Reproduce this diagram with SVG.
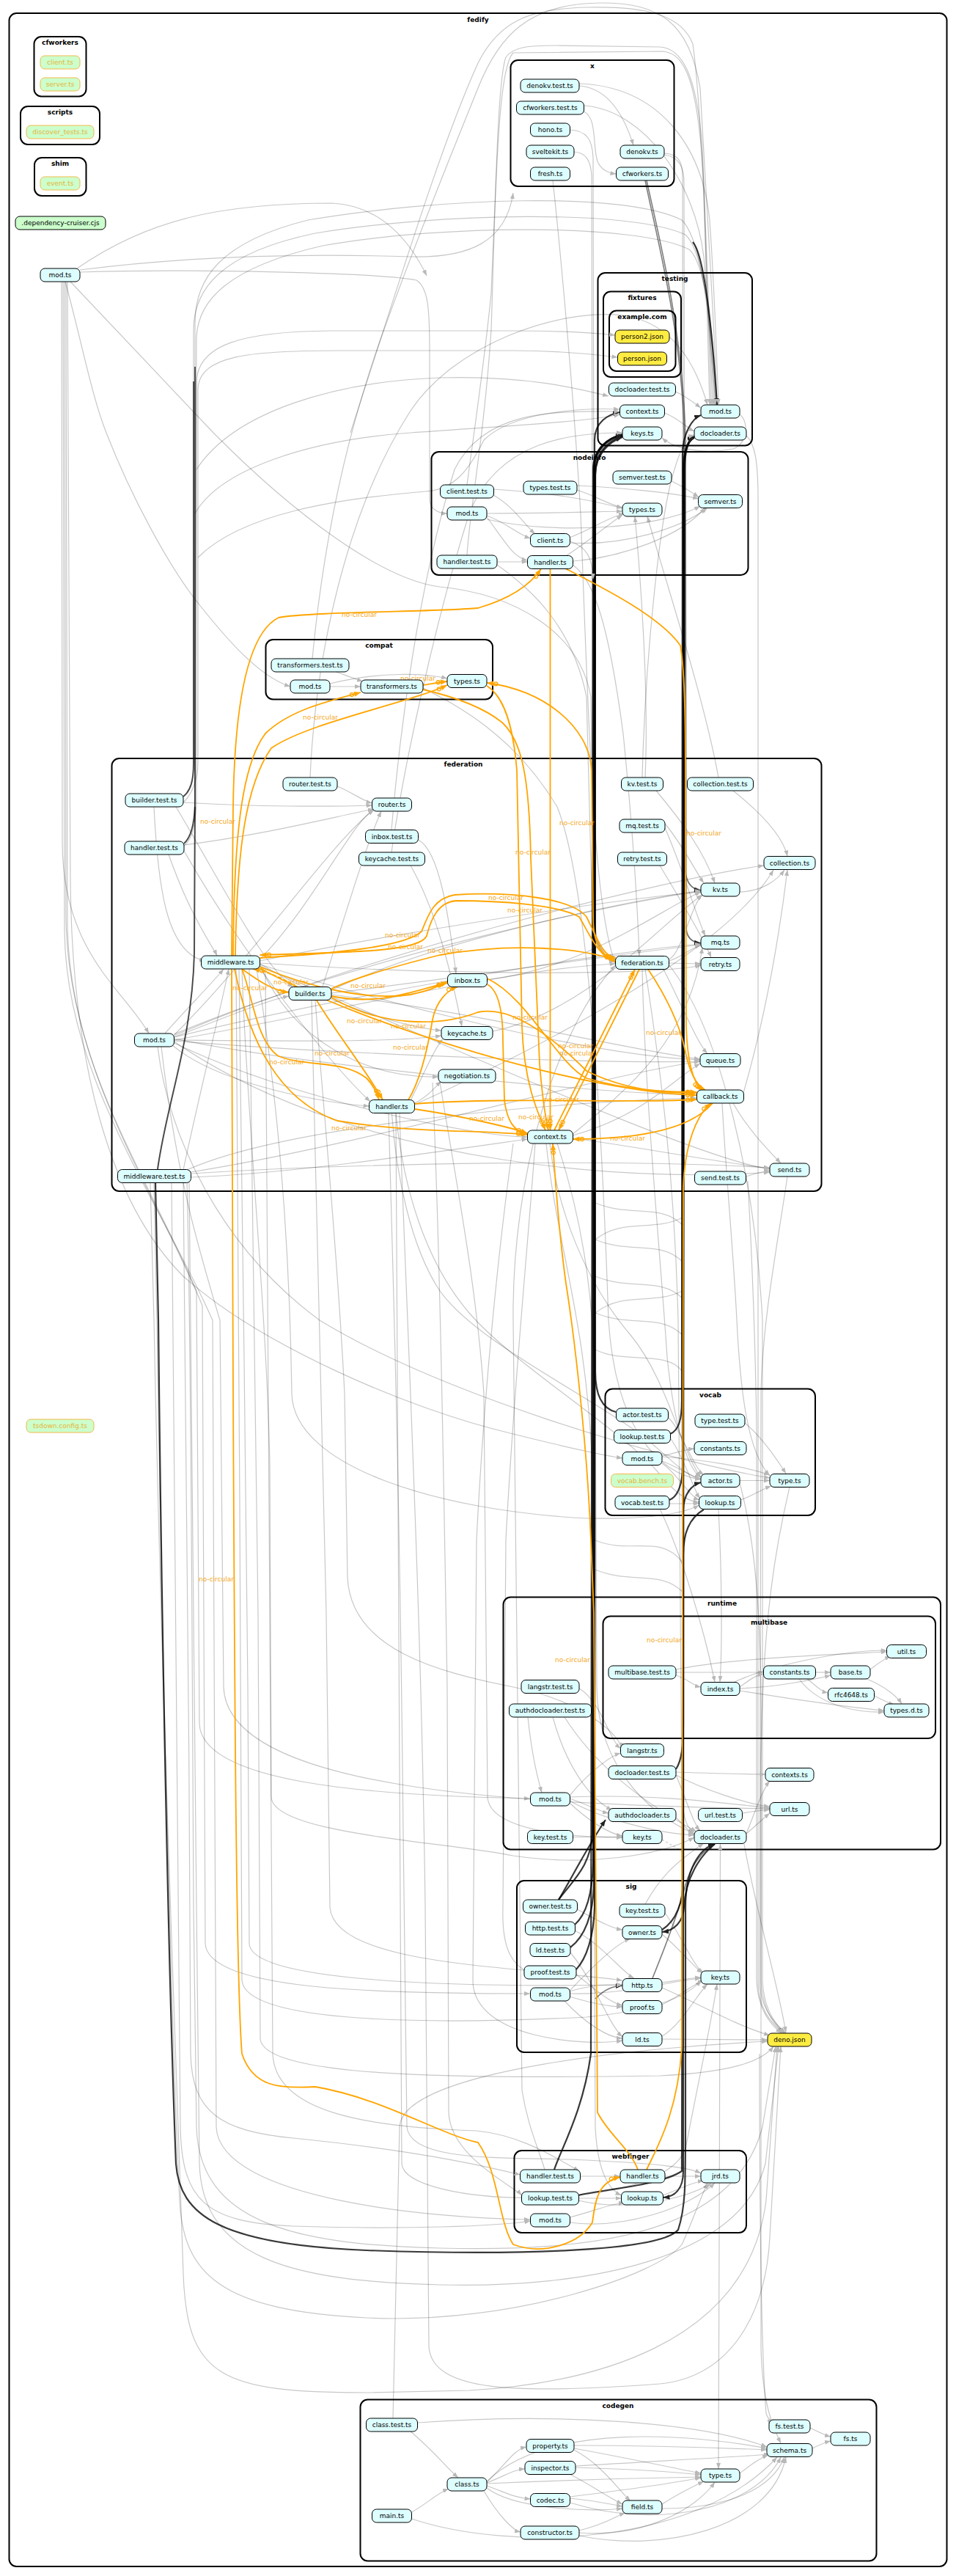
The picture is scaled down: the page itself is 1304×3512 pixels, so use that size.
<svg xmlns="http://www.w3.org/2000/svg" width="1304" height="3512" viewBox="0 0 1304 3512">
<defs>
<marker id="ag" viewBox="0 0 8 6" refX="8" refY="3" markerWidth="8" markerHeight="6" orient="auto" markerUnits="userSpaceOnUse"><path d="M0,0L8,3L0,6z" fill="#b8b8b8"/></marker>
<marker id="ad" viewBox="0 0 8 6" refX="8" refY="3" markerWidth="9" markerHeight="7" orient="auto" markerUnits="userSpaceOnUse"><path d="M0,0L8,3L0,6z" fill="#222"/></marker>
<marker id="ao" viewBox="0 0 16 8" refX="16" refY="4" markerWidth="16" markerHeight="8" orient="auto" markerUnits="userSpaceOnUse"><circle cx="3.5" cy="4" r="2.5" fill="none" stroke="#ffa500" stroke-width="1.3"/><path d="M7,0.5L16,4L7,7.5z" fill="#ffa500"/></marker>
</defs>
<style>
.e{fill:none;stroke:#000;stroke-opacity:.22;stroke-width:1.2;marker-end:url(#ag)}
.w{fill:none;stroke:#000;stroke-opacity:.2;stroke-width:1.2}
.m{fill:none;stroke:#000;stroke-opacity:.5;stroke-width:1.6;marker-end:url(#ad)}
.d{fill:none;stroke:#000;stroke-opacity:.78;stroke-width:2.2;marker-end:url(#ad)}
.ds{fill:none;stroke:#000;stroke-opacity:.65;stroke-width:2}
.o{fill:none;stroke:#ffa500;stroke-width:1.8;marker-end:url(#ao)}
.od{fill:none;stroke:#ffa500;stroke-width:1.8;stroke-dasharray:5,3;marker-end:url(#ao)}
.l{font-family:"DejaVu Sans",sans-serif;font-size:9px;fill:#f5a623;text-anchor:middle}
.n rect{fill:#ddfeff;stroke:#000;stroke-width:1}
.nj rect{fill:#ffec42;stroke:#000;stroke-width:1}
.no rect{fill:#ccffcc;stroke:#f2b84b;stroke-width:1}
.ng rect{fill:#ccffcc;stroke:#000;stroke-width:1}
text{font-family:"DejaVu Sans",sans-serif;font-size:9px;text-anchor:middle}
.no text{fill:#e6b23a}
.cl{fill:none;stroke:#000;stroke-width:2}
.ct{font-weight:bold}
</style>
<rect width="1304" height="3512" fill="#fff"/>

<g id="clusters">
<rect class="cl" x="12.5" y="18" width="1279" height="3481" rx="10"/><text class="ct" x="652" y="29.5">fedify</text>
<rect class="cl" x="46.5" y="50" width="71" height="81.5" rx="10"/><text class="ct" x="82" y="61">cfworkers</text>
<rect class="cl" x="28" y="145" width="108" height="52" rx="10"/><text class="ct" x="82" y="156">scripts</text>
<rect class="cl" x="47" y="215" width="70.5" height="52" rx="10"/><text class="ct" x="82" y="226">shim</text>
<rect class="cl" x="696.5" y="82" width="223" height="172" rx="10"/><text class="ct" x="808" y="93">x</text>
<rect class="cl" x="815.5" y="372" width="210.5" height="235.5" rx="10"/><text class="ct" x="920.5" y="383">testing</text>
<rect class="cl" x="823" y="397.5" width="106" height="116.5" rx="10"/><text class="ct" x="876" y="409">fixtures</text>
<rect class="cl" x="831" y="423.5" width="90.5" height="82.5" rx="10"/><text class="ct" x="876" y="435">example.com</text>
<rect class="cl" x="588.5" y="616" width="432" height="168" rx="10"/><text class="ct" x="804" y="627">nodeinfo</text>
<rect class="cl" x="362.5" y="872" width="309.5" height="81.5" rx="10"/><text class="ct" x="517" y="883">compat</text>
<rect class="cl" x="152.5" y="1034" width="968" height="590" rx="10"/><text class="ct" x="632" y="1045">federation</text>
<rect class="cl" x="825.5" y="1893.5" width="286.5" height="172.5" rx="10"/><text class="ct" x="969" y="1905">vocab</text>
<rect class="cl" x="686.5" y="2177.5" width="596.5" height="344" rx="10"/><text class="ct" x="985" y="2189">runtime</text>
<rect class="cl" x="822.5" y="2203.5" width="453.5" height="166.5" rx="10"/><text class="ct" x="1049" y="2215">multibase</text>
<rect class="cl" x="705" y="2564" width="313" height="234" rx="10"/><text class="ct" x="861" y="2575">sig</text>
<rect class="cl" x="701.5" y="2932" width="316.5" height="112" rx="10"/><text class="ct" x="860" y="2943">webfinger</text>
<rect class="cl" x="491.5" y="3271.5" width="704" height="220" rx="10"/><text class="ct" x="843" y="3283">codegen</text>
</g>

<g id="edges">
<!-- root mod.ts -->
<path class="e" d="M89,384 C110,460 125,540 145,590 C180,680 230,770 266,817 C300,860 350,922 396,936"/>
<path class="e" d="M109,371 C260,366 520,372 568,382 C584,392 586,420 586,480 L586,680 C586,694 598,700 610,700"/>
<path class="e" d="M84,384 L85,1150 C86,1300 170,1350 203,1409"/>
<path class="e" d="M92,384 L96,1200 C98,1450 150,1640 250,1740 C350,1830 550,1920 700,1955 C780,1975 830,1985 849,1988"/>
<path class="e" d="M88,384 L90,1250 C92,1450 200,1600 268,1760 L272,2350 C275,2430 500,2448 723,2452"/>
<path class="e" d="M90,384 L92,1260 C94,1460 210,1620 276,1780 L280,2650 C284,2712 500,2718 723,2718"/>
<path class="e" d="M86,384 L88,1270 C90,1470 220,1640 290,1800 L295,2900 C300,3000 600,3025 723,3026"/>
<path class="e" d="M96,384 L291,590 C400,700 520,790 600,800 C700,810 790,860 806,950 L810,1250 C812,1295 825,1310 839,1311"/>
<path class="e" d="M105,366 C200,300 300,277 453,277 C520,280 560,330 582,376"/>
<path class="e" d="M109,368 C250,350 400,345 560,350 C640,352 690,330 700,263"/>
<!-- arcs into testing/mod.ts -->
<path class="e" d="M426,898 C440,750 470,600 520,460 C570,320 620,200 652,120 C680,50 720,4 820,4 C900,4 940,30 955,120 C965,300 975,450 978,552"/>
<path class="e" d="M637,757 C640,700 660,600 670,450 C675,300 678,110 690,78 C700,64 720,62 760,62 L900,64 C930,66 950,100 958,200 L972,552"/>
<path class="e" d="M637,661 C645,600 660,500 670,400 C678,200 682,90 700,72 L905,70 C935,74 952,110 960,250 L968,552"/>
<path class="e" d="M478,590 C540,400 600,200 652,86 C680,30 720,12 800,10 C880,8 930,20 945,60 C958,150 965,400 970,552"/>
<!-- tests into testing/mod.ts via left channel -->
<path class="e" d="M251,1150 C262,1140 266,1120 266,1090 L266,440 C266,380 300,330 420,300 C600,270 850,260 930,300 C960,330 970,450 974,552"/>
<path class="e" d="M250,1086 C260,1078 264,1065 264,1040 L264,450 C264,395 300,345 430,318 C600,290 860,285 935,320 C962,345 972,460 976,552"/>
<path class="e" d="M215,1594 C228,1500 262,1420 265,1300 L268,460 C270,410 310,365 440,335 C610,305 870,305 940,340 C964,360 974,470 978,552"/>
<path class="ds" d="M251,1150 C262,1140 266,1120 266,1090 L266,500"/>
<path class="ds" d="M250,1086 C260,1078 264,1065 264,1040 L264,520"/>
<path class="ds" d="M215,1594 C228,1500 262,1420 265,1300 L266,1100"/>
<path class="d" d="M945,330 C962,350 972,460 978,552"/>
<!-- dark into testing -->
<path class="d" d="M762,2590 C780,2565 806,2545 808,2500 L810,640 C810,610 830,596 849,593"/>
<path class="d" d="M784,2624 C800,2610 808,2580 809,2540 L811,640 C811,612 830,598 849,594"/>
<path class="d" d="M778,2655 C798,2640 809,2610 810,2570 L812,645 C812,615 832,600 849,595"/>
<path class="d" d="M786,2685 C800,2670 810,2640 811,2600 L812,648 C812,618 832,602 849,596"/>
<path class="d" d="M756,2958 C765,2930 795,2880 806,2800 L809,640 C809,612 830,597 849,592"/>
<path class="d" d="M840,1925 C820,1920 812,1900 812,1870 L811,600 C811,575 830,565 845,562"/>
<path class="d" d="M922,2412 C930,2400 932,2380 932,2350 L933,640 C933,610 940,598 947,595"/>
<path class="d" d="M913,2045 C926,2040 931,2020 931,2000 L932,640 C932,612 940,600 947,596"/>
<path class="d" d="M914,1955 C926,1950 930,1935 930,1910 L931,620 C931,590 945,570 956,566"/>
<path class="d" d="M789,2993 C820,2985 900,2980 930,2960 L934,640 C934,612 940,600 947,597"/>
<path class="d" d="M903,2631 C920,2620 932,2600 932,2560 L932,2060 C932,2035 945,2024 956,2021"/>
<path class="d" d="M212,1613 L216,1800 C220,2200 230,2700 240,2950 C245,3020 300,3060 500,3068 C700,3075 900,3070 925,3040 C935,3010 935,2980 935,2900 L935,2600 C935,2540 960,2518 975,2514"/>
<path class="d" d="M975,2514 C955,2530 935,2560 933,2600 C932,2620 920,2632 903,2634"/>
<path class="d" d="M960,2058 C940,2070 932,2090 932,2120 L932,2960 C932,2985 920,2995 904.5,2996"/>
<path class="d" d="M762,2590 C780,2560 800,2520 826,2481"/>
<path class="m" d="M890,2697 C905,2660 925,2610 935,2570 C945,2535 965,2520 975,2514"/>
<path class="m" d="M812,2725 C825,2712 835,2708 849,2707"/>
<!-- x cluster -->
<path class="e" d="M790,117 C830,120 852,160 864,198"/>
<path class="e" d="M796,152 C815,160 808,200 815,220 C820,232 830,236 840.5,237"/>
<path class="e" d="M790,114 C900,118 958,200 968,300 C975,400 978,500 980,552"/>
<path class="e" d="M796.5,144 C880,150 948,250 960,350 C968,450 974,520 976,552"/>
<path class="e" d="M777.5,177 C800,178 808,190 809,215 L811,1250 C812,1290 825,1308 839.5,1310"/>
<path class="e" d="M783,207 C800,208 806,220 807,240 L809,1260 C810,1295 825,1306 839.5,1308"/>
<path class="e" d="M754,246 C760,300 780,500 792,700 C803,1000 810,1240 839.5,1314"/>
<path class="e" d="M906,209 C925,210 931,220 931,240 L932,1180 C933,1205 945,1212 956,1213"/>
<path class="e" d="M906,211 C928,214 933,230 933,250 L934,1260 C935,1280 945,1285 956,1285"/>
<path class="m" d="M880,246 C895,320 930,450 933,590 L934,1180 C935,1205 945,1213 956,1214"/>
<path class="m" d="M882,246 C898,320 932,450 935,600 L936,1265 C937,1280 945,1285 956,1286"/>
<!-- testing -->
<path class="e" d="M921.5,534 C935,540 945,548 956,556"/>
<path class="e" d="M906.5,563 C925,570 935,582 947,588"/>
<path class="e" d="M1009,565 C1022,575 1020,605 1000,612 C960,620 920,612 903,597"/>
<path class="e" d="M251,1153 C262,1145 268,1120 268,1090 L268,520 C270,470 330,452 450,451 L700,451 C780,451 820,455 839,457"/>
<path class="e" d="M250,1094 C260,1085 270,1065 270,1040 L270,530 C272,485 340,478 460,478 L700,478 C780,478 820,485 842.5,487"/>
<path class="e" d="M423,1060 C430,900 470,700 560,560 C620,470 760,420 850,430 C920,440 950,500 965,552"/>
<path class="e" d="M534,1131 C545,1000 570,800 620,640 C660,560 750,560 845.5,561"/>
<path class="e" d="M534,1162 C550,1050 590,860 640,700 C680,600 780,590 849,590"/>
<path class="e" d="M876,1060 C880,900 900,700 920,640 C930,605 940,595 947,593"/>
<path class="e" d="M880,1060 C885,950 875,800 866,704"/>
<path class="e" d="M980,1060 C960,950 910,800 883,704"/>
<path class="e" d="M1018,594 C1030,605 1034,630 1034,680 L1034,2700 C1034,2745 1058,2762 1068,2772"/>
<path class="e" d="M266,700 C300,640 420,600 560,590 C700,580 800,575 845.5,565"/>
<path class="e" d="M268,640 C320,560 460,520 600,515 C720,512 790,530 830,540"/>
<path class="e" d="M270,760 C330,700 460,680 580,670 C620,668 640,640 660,600 C700,560 800,556 845,558"/>
<!-- nodeinfo -->
<path class="e" d="M916,656 C935,665 945,672 953,678"/>
<path class="e" d="M787,668 C810,675 830,688 849,692"/>
<path class="e" d="M787,662 C850,665 920,672 953,680"/>
<path class="e" d="M673,675 C700,690 715,715 730,728"/>
<path class="e" d="M673,667 C750,672 800,680 849,693"/>
<path class="e" d="M664,703 C690,712 705,728 723.5,734"/>
<path class="e" d="M664,700 C750,700 800,698 849,697"/>
<path class="e" d="M664,705 C690,740 700,760 719.5,764"/>
<path class="e" d="M664,708 C760,730 900,720 955,690"/>
<path class="e" d="M777,733 C810,720 830,705 852,700"/>
<path class="e" d="M777,740 C850,745 930,720 965,692"/>
<path class="e" d="M678,766 L719.5,766"/>
<path class="e" d="M772,758 C800,740 830,715 849,702"/>
<path class="e" d="M781,765 C850,760 930,730 962,692"/>
<path class="e" d="M678,770 C720,800 780,850 800,950 L808,1250 C810,1290 825,1303 839.5,1305"/>
<path class="e" d="M781,770 C810,790 830,850 850,1000 C865,1150 870,1250 872,1303"/>
<path class="e" d="M777,738 C800,745 808,760 809,790"/>
<!-- compat -->
<path class="e" d="M450,936 L492,936"/>
<path class="e" d="M450,932 C520,915 580,918 610,925"/>
<path class="e" d="M450,913 C470,920 485,926 495,929"/>
<path class="e" d="M577,938 C620,960 700,1000 760,1100 C800,1200 820,1500 830,1800 C840,1950 900,2010 956,2017"/>
<!-- federation internal -->
<path class="e" d="M460,1072 C480,1080 495,1092 507.5,1095"/>
<path class="e" d="M570.5,1145 C600,1160 612,1250 622,1327"/>
<path class="e" d="M560,1180 C600,1250 620,1350 630,1399.5"/>
<path class="e" d="M895,1078 C930,1120 960,1160 975,1204"/>
<path class="e" d="M1000,1078 C1040,1110 1068,1140 1074,1167.5"/>
<path class="e" d="M907,1129 C930,1180 950,1250 962,1276"/>
<path class="e" d="M907,1123 C930,1150 950,1190 960,1204"/>
<path class="e" d="M900,1180 C930,1230 960,1280 970,1305.5"/>
<path class="e" d="M1017.5,1604 C1030,1600 1040,1597 1050,1596"/>
<path class="e" d="M912.5,1308 C930,1300 942,1235 958,1220"/>
<path class="e" d="M912.5,1310 C930,1305 942,1292 956,1289"/>
<path class="e" d="M912.5,1313 L956,1314"/>
<path class="e" d="M905,1321.5 C930,1370 950,1420 965,1436.5"/>
<path class="e" d="M250,1094 C350,1100 450,1100 507.5,1098"/>
<path class="e" d="M240,1100 C300,1200 360,1320 400,1346"/>
<path class="e" d="M251,1160 C330,1300 450,1450 505,1502"/>
<path class="e" d="M251,1152 C350,1140 450,1115 510,1103"/>
<path class="e" d="M250,1595 C270,1500 300,1380 312,1321"/>
<path class="e" d="M260.5,1600 C500,1585 850,1580 1050,1592"/>
<path class="e" d="M260.5,1605 C400,1600 600,1570 719.5,1553"/>
<path class="e" d="M255,1595 C400,1530 800,1500 950.5,1497"/>
<path class="e" d="M260,1598 C500,1560 800,1470 955,1447"/>
<path class="e" d="M237.5,1414 C300,1390 360,1365 394,1358"/>
<path class="e" d="M237.5,1416 C400,1450 800,1490 950.5,1493"/>
<path class="e" d="M237.5,1412 C500,1300 900,1200 1042,1180"/>
<path class="e" d="M237.5,1422 C400,1500 650,1550 719.5,1550"/>
<path class="e" d="M237.5,1418 C450,1380 700,1320 839.5,1314"/>
<path class="e" d="M235,1425 C300,1480 450,1505 503.5,1508"/>
<path class="e" d="M237.5,1410 C500,1300 850,1230 956,1215"/>
<path class="e" d="M225,1409 C250,1380 290,1340 305,1321"/>
<path class="e" d="M237.5,1414 C500,1350 850,1295 956,1287"/>
<path class="e" d="M237.5,1411 C350,1300 450,1150 510,1104"/>
<path class="e" d="M237.5,1420 C500,1600 900,1610 1050,1598"/>
<path class="e" d="M237.5,1419 C500,1440 850,1450 955,1447"/>
<path class="e" d="M237.5,1418 C450,1420 550,1420 602,1412"/>
<path class="e" d="M354.5,1308 C430,1230 480,1120 510,1104"/>
<path class="e" d="M354.5,1310 C500,1280 800,1230 956,1216"/>
<path class="e" d="M354.5,1314 C450,1370 550,1400 602,1405"/>
<path class="e" d="M354.5,1315 C500,1360 800,1440 955,1445"/>
<path class="e" d="M354.5,1316 C400,1420 500,1470 598,1468"/>
<path class="e" d="M354.5,1313 C600,1330 900,1330 956,1316"/>
<path class="e" d="M354.5,1317 C600,1420 950,1580 1050,1594"/>
<path class="e" d="M565.5,1504 C585,1495 595,1480 602,1474"/>
<path class="e" d="M560,1500 C580,1460 595,1425 604,1417"/>
<path class="e" d="M565.5,1506 C800,1400 1000,1280 1055,1186"/>
<path class="e" d="M452,1350 C600,1280 850,1230 956,1214"/>
<path class="e" d="M440,1345 C470,1250 500,1150 520,1106"/>
<path class="e" d="M452,1356 C650,1380 850,1430 955,1444"/>
<path class="e" d="M452,1354 C650,1330 850,1300 956,1288"/>
<path class="e" d="M781.5,1552 C850,1560 950,1580 1050,1593"/>
<path class="e" d="M781.5,1546 C850,1490 940,1420 958,1292"/>
<path class="e" d="M781.5,1548 C880,1520 920,1470 955,1450"/>
<path class="e" d="M664.5,1336 C800,1320 900,1240 956,1216"/>
<path class="e" d="M672,1406 C800,1380 900,1260 958,1220"/>
<path class="e" d="M1009,1216 C1040,1215 1060,1200 1070,1186"/>
<path class="e" d="M1014,1490 C1040,1400 1060,1300 1074,1186"/>
<path class="e" d="M1000,1504 C1020,1540 1050,1570 1065,1586"/>
<path class="e" d="M210,1100 C215,1200 225,1300 280,1310"/>
<path class="e" d="M230,1165 C260,1250 290,1290 296,1303"/>
<!-- long edges downstream -->
<path class="e" d="M534.5,1518 C540,1600 560,1700 600,1760 C650,1830 800,1900 880,1960 C920,1995 940,2015 956,2016"/>
<path class="e" d="M540,1518 C550,1620 580,1720 640,1790 C700,1860 850,1950 900,2010 C925,2040 940,2047 953.5,2048"/>
<path class="e" d="M750,1559 C760,1650 800,1750 860,1820 C910,1880 930,1980 956,2014"/>
<path class="e" d="M760,1559 C790,1650 810,1750 812,1900 L814,2300 C815,2420 900,2480 947,2500"/>
<path class="e" d="M745,1559 C760,1700 800,1800 808,2000 L812,2900 C815,2960 830,2985 847.5,2993"/>
<path class="e" d="M876,1321.5 C880,1500 900,1700 910,1850 C920,1950 940,2005 956,2014"/>
<path class="e" d="M880,1321.5 C900,1450 920,1600 925,1800 L930,2450 C932,2485 940,2495 947,2498"/>
<path class="e" d="M1074,1604 C1060,1700 1040,1800 1038,1900 L1036,2700 C1036,2740 1060,2760 1070,2772"/>
<path class="e" d="M340,1321 C345,1600 350,1900 352,2200 L355,2780 C360,2830 600,2835 900,2830 C1000,2825 1040,2810 1055,2790"/>
<path class="e" d="M326,1321 C330,1600 335,2000 338,2300 L340,2650 C342,2700 600,2710 849,2706"/>
<path class="e" d="M322,1321 C326,1700 328,2300 330,2700 C335,2760 600,2760 800,2750 C900,2740 940,2720 956,2700"/>
<path class="e" d="M330,1321 C335,1500 365,1800 368,2000 L370,2450 C372,2500 600,2510 700,2530 C800,2545 900,2530 947,2505"/>
<path class="e" d="M350,1321 C380,1500 395,1700 398,1900 C400,2000 600,2060 800,2070 C900,2072 940,2060 953.5,2052"/>
<path class="e" d="M540,1518 L548,2950 C552,3010 900,3020 935,2930 C950,2850 970,2760 978,2705"/>
<path class="e" d="M530,1518 C535,1700 545,2000 550,2500 L555,2900 C560,2950 700,2940 800,2945 C900,2950 940,2955 956,2963"/>
<path class="e" d="M545,1518 C555,1800 575,2200 580,2600 L585,3200 C590,3260 700,3265 900,3250 C1000,3240 1045,3150 1050,3050 L1065,2790"/>
<path class="e" d="M205,1613 L210,1800 C220,2300 240,2800 250,3100 C255,3240 300,3262 500,3262 L640,3259 C800,3250 1020,3200 1045,3000 L1060,2790"/>
<path class="e" d="M215,1427 C230,1550 300,1700 436,1800 C600,1900 900,1990 1050,2015"/>
<path class="e" d="M220,1427 C240,1600 270,1700 300,1800 L305,2300 C310,2440 700,2460 1050,2466"/>
<path class="e" d="M430,1364 C440,1500 460,1700 470,1900 L474,2150 C478,2250 600,2280 700,2300 C800,2320 850,2370 846.5,2384"/>
<path class="e" d="M425,1364 C430,1600 440,1900 445,2200 L450,2600 C455,2680 700,2680 849,2700"/>
<path class="e" d="M600,1475 C620,1600 650,1750 660,1900 L665,2450 C668,2500 800,2505 849,2505"/>
<path class="e" d="M210,1613 L214,1800 C222,2300 235,2800 245,3000 C250,3100 300,3150 500,3160 C700,3170 900,3100 930,3060 C940,3040 950,3010 965,2976"/>
<path class="e" d="M255,1612 C260,1800 262,2200 264,2600 L268,2900 C272,3030 400,3060 600,3065 C800,3070 1000,3050 1040,2900 L1058,2790"/>
<path class="e" d="M258,1612 C262,1800 266,2200 268,2600 L272,2950 C276,3080 400,3110 600,3115 C800,3120 1010,3080 1044,2950 L1062,2790"/>
<path class="e" d="M362,1321 C365,1700 368,2100 370,2500 L372,2800 C375,2880 500,2900 650,2905 C700,2910 740,2930 790,2960"/>
<path class="e" d="M730,1559 C720,1700 700,1900 690,2100 L686,2600 C684,2660 700,2680 723,2690"/>
<path class="e" d="M700,1559 C680,1700 660,1900 650,2100 L645,2700 C645,2780 800,2790 849,2782"/>
<path class="e" d="M985,1504 C990,1600 1000,1700 1005,1800 C1010,1900 1020,1980 1050,2012"/>
<path class="e" d="M1020,1610 C1025,1700 1030,1800 1032,1950 L1032,2700 C1034,2745 1056,2764 1066,2772"/>
<path class="e" d="M912,1315 C980,1400 1030,1600 1040,1800 L1040,2700 C1042,2745 1062,2764 1072,2772"/>
<path class="e" d="M250,1612 C255,1900 258,2400 260,2800 C262,2880 300,2905 400,2915 C550,2930 650,2950 709.5,2965"/>
<path class="e" d="M234,1612 C238,2000 242,2500 246,2900 C248,3000 280,3030 400,3035 C550,3040 680,3035 723.5,3028"/>
<path class="e" d="M590,1476 C600,1700 605,2000 610,2300 L612,2880 C614,2940 700,2980 711.5,2993"/>
<!-- wavy channel texture -->
<path class="w" d="M812,1640 C860,1660 900,1640 931,1670 M812,1690 C860,1710 900,1690 931,1720 M812,1740 C860,1760 900,1740 931,1770"/>
<path class="w" d="M812,1790 C860,1810 900,1790 931,1820 M812,1840 C850,1860 910,1840 931,1870 M812,2100 C860,2120 900,2090 931,2130"/>
<path class="w" d="M812,2140 C860,2160 900,2140 931,2170 M931,1660 C890,1680 850,1660 812,1690 M931,1760 C890,1780 850,1760 812,1790"/>
<!-- vocab -->
<path class="e" d="M911,1932 C930,1950 945,2000 960,2011"/>
<path class="e" d="M914,1960 C935,1990 945,2030 955,2043"/>
<path class="e" d="M903,1992 C925,2000 940,2012 956,2016"/>
<path class="e" d="M903,1995 C925,2010 940,2040 954,2045"/>
<path class="e" d="M903,1986 C960,1990 1020,2000 1050,2011"/>
<path class="e" d="M903,1985 C925,1980 935,1976 947,1975"/>
<path class="e" d="M1009,2018.5 L1050,2018.5"/>
<path class="e" d="M1010,2045 C1025,2040 1040,2030 1052,2026"/>
<path class="e" d="M1016,1940 C1040,1960 1060,1990 1072,2009"/>
<path class="e" d="M913,2050 L953.5,2050"/>
<path class="e" d="M980,2058 C985,2150 985,2250 982,2293"/>
<path class="e" d="M900,2057 C930,2120 960,2220 975,2293"/>
<path class="e" d="M1009,2022 C1030,2100 1040,2200 1038,2400 L1038,2700 C1040,2745 1060,2764 1070,2772"/>
<path class="e" d="M1077,2027.5 C1060,2100 1040,2200 1038,2400 L1038,3200 C1040,3280 1055,3310 1065,3331"/>
<!-- runtime -->
<path class="e" d="M922,2284 C940,2290 945,2298 956,2300"/>
<path class="e" d="M922,2280 L1041.5,2280"/>
<path class="e" d="M922,2276 C1000,2260 1150,2255 1209.5,2252"/>
<path class="e" d="M1009,2300 C1020,2292 1030,2284 1041.5,2282"/>
<path class="e" d="M1000,2294 C1050,2270 1150,2250 1209.5,2250"/>
<path class="e" d="M1009,2305 C1100,2320 1180,2330 1206,2332"/>
<path class="e" d="M1009,2302 C1060,2300 1110,2290 1133,2284"/>
<path class="e" d="M1112.5,2280 L1133,2280"/>
<path class="e" d="M1100,2288 C1115,2300 1120,2306 1129.5,2308"/>
<path class="e" d="M1090,2289 C1120,2330 1180,2335 1206,2334"/>
<path class="e" d="M1187,2276 C1200,2266 1210,2260 1215,2258"/>
<path class="e" d="M1180,2288 C1210,2300 1225,2315 1230,2323"/>
<path class="e" d="M1192.5,2312 C1205,2318 1212,2322 1220,2324"/>
<path class="e" d="M790,2302 C820,2320 830,2370 846.5,2384"/>
<path class="e" d="M754,2341 C770,2400 800,2450 835,2468"/>
<path class="e" d="M720,2341 C725,2390 732,2420 739,2444"/>
<path class="e" d="M770,2341 C820,2420 900,2470 950,2497"/>
<path class="e" d="M922,2420 C935,2450 945,2485 955,2496"/>
<path class="e" d="M922,2416 C980,2418 1020,2419 1044,2419"/>
<path class="e" d="M922,2420 C960,2440 1020,2460 1050,2463"/>
<path class="e" d="M777,2452 C800,2460 820,2470 830,2472"/>
<path class="e" d="M777,2455 C820,2480 900,2500 947,2502"/>
<path class="e" d="M777,2458 C800,2480 830,2500 849,2503"/>
<path class="e" d="M777,2448 C800,2420 830,2395 846.5,2390"/>
<path class="e" d="M777,2450 C900,2445 1000,2460 1050,2465"/>
<path class="e" d="M781,2504.5 L849,2504.5"/>
<path class="e" d="M922,2478 C935,2490 940,2498 947,2501"/>
<path class="e" d="M1012.5,2472 C1025,2470 1040,2468 1050,2467"/>
<path class="e" d="M1018,2500 C1030,2470 1040,2440 1050,2428"/>
<path class="e" d="M1018,2500 C1030,2490 1040,2480 1050,2472"/>
<path class="e" d="M1015,2514 C1030,2600 1060,2700 1072,2771"/>
<path class="e" d="M903,2508 C915,2515 925,2520 930,2525" style="stroke-dasharray:3,3;marker-end:none"/>
<!-- sig -->
<path class="e" d="M787,2603 C810,2615 830,2628 849,2631"/>
<path class="e" d="M907,2608 C930,2640 945,2680 960,2690"/>
<path class="e" d="M784,2632 C820,2650 850,2690 865,2697"/>
<path class="e" d="M778,2662 C810,2700 830,2760 849,2777"/>
<path class="e" d="M786,2692 C810,2710 830,2730 849,2734"/>
<path class="e" d="M777,2715 C810,2705 830,2706 849,2706"/>
<path class="e" d="M777,2722 C810,2732 830,2736 849,2736"/>
<path class="e" d="M770,2728 C800,2760 830,2778 849,2779"/>
<path class="e" d="M777,2714 C810,2680 840,2650 860,2643"/>
<path class="e" d="M777,2718 C850,2720 920,2700 956,2697"/>
<path class="e" d="M903,2637 C930,2660 945,2680 958,2690"/>
<path class="e" d="M903,2703 C925,2700 940,2697 956,2696"/>
<path class="e" d="M903,2733 C930,2720 945,2705 960,2700"/>
<path class="e" d="M903,2776 C930,2760 950,2720 965,2705"/>
<path class="e" d="M903,2780 L1047,2781"/>
<path class="e" d="M903,2710 C950,2730 1000,2760 1050,2775"/>
<path class="e" d="M982,2687 L982.5,2514"/>
<path class="e" d="M880,2596 C900,2560 920,2540 960,2513"/>
<path class="e" d="M982,2705 C982,2900 980,3200 980,3366"/>
<!-- webfinger -->
<path class="e" d="M791,2967 L846,2967"/>
<path class="e" d="M907,2967 L956,2967"/>
<path class="e" d="M789,2997 L847.5,2997"/>
<path class="e" d="M904.5,2993 C925,2985 945,2975 960,2973"/>
<path class="e" d="M777,3023 C810,3015 830,3005 852,3003"/>
<path class="e" d="M777,3030 C850,3040 940,3010 975,2976"/>
<path class="e" d="M789,3000 C850,3015 930,3000 970,2977"/>
<path class="e" d="M743,2958 C735,2930 720,2900 712,2850 L700,1800 C698,1600 760,1400 839.5,1316"/>
<!-- codegen -->
<path class="e" d="M560,3315 C590,3340 610,3365 625,3378"/>
<path class="e" d="M569.5,3303 C750,3290 950,3300 1046,3336"/>
<path class="e" d="M536,3297 L545,2900 C548,2820 900,2790 1047,2783"/>
<path class="e" d="M561.5,3425 C580,3415 595,3400 612,3393"/>
<path class="e" d="M561.5,3434 C700,3480 950,3470 1060,3350"/>
<path class="e" d="M664,3384 C690,3360 700,3340 718,3336"/>
<path class="e" d="M664,3385 C690,3375 700,3367 716,3366"/>
<path class="e" d="M664,3389 C690,3398 700,3405 723.5,3407"/>
<path class="e" d="M660,3396 C680,3430 700,3450 710,3452"/>
<path class="e" d="M664,3386 C800,3380 900,3378 956,3377"/>
<path class="e" d="M664,3392 C700,3420 800,3425 849,3420"/>
<path class="e" d="M664,3383 C750,3300 950,3320 1046,3338"/>
<path class="e" d="M783,3334 C900,3334 1000,3338 1046,3340"/>
<path class="e" d="M783,3340 C820,3360 840,3390 860,3410"/>
<path class="e" d="M783,3338 C850,3350 920,3365 956,3372"/>
<path class="e" d="M785,3364 C850,3366 920,3370 956,3374"/>
<path class="e" d="M785,3362 C900,3355 1000,3350 1050,3346"/>
<path class="e" d="M775,3372 C810,3390 830,3405 849,3414"/>
<path class="e" d="M777.5,3406 C820,3410 835,3415 849,3417"/>
<path class="e" d="M777.5,3404 C850,3395 920,3385 956,3378"/>
<path class="e" d="M777.5,3412 C900,3450 1030,3420 1065,3350"/>
<path class="e" d="M903,3414 C925,3400 945,3390 960,3383"/>
<path class="e" d="M903,3420 C980,3420 1050,3400 1070,3350"/>
<path class="e" d="M1009,3372 C1025,3360 1035,3352 1048,3347"/>
<path class="e" d="M790,3450 C830,3440 840,3430 853,3426"/>
<path class="e" d="M790,3453 C880,3460 950,3420 975,3384"/>
<path class="e" d="M790,3457 C900,3480 1050,3450 1072,3350"/>
<path class="e" d="M1105,3310 C1115,3315 1125,3320 1133,3322"/>
<path class="e" d="M1108,3338 C1118,3333 1125,3330 1133,3328"/>
<path class="e" d="M1036,2800 C1036,3000 1038,3200 1045,3290 C1048,3300 1052,3300 1055,3299"/>
</g>

<g id="orange-edges">
<path class="o" d="M318,1303 C319,1150 328,1045 362,1000 C395,968 450,955 492,944"/>
<path class="o" d="M321,1303 C323,1160 335,1070 370,1020 C420,985 560,958 610,934"/>
<path class="o" d="M577,934 C590,932 600,930 610,929"/>
<path class="o" d="M664,935 C688,950 700,990 705,1050 L712,1400 C715,1480 735,1520 744,1541"/>
<path class="o" d="M577,940 C620,950 660,965 685,985 C712,1010 722,1060 724,1170 L736,1450 C740,1500 745,1528 748,1541"/>
<path class="o" d="M839.5,1310 C815,1300 809,1280 809,1250 L807,1050 C804,990 740,940 664,931"/>
<path class="o" d="M330,1321 C350,1335 370,1350 394,1353"/>
<path class="od" d="M405,1345.5 C385,1333 365,1325 345,1321"/>
<path class="o" d="M330,1321 C345,1360 350,1420 380,1440 C420,1455 470,1445 500,1470 C510,1480 514,1490 517,1499.5"/>
<path class="o" d="M432,1364 C460,1410 500,1460 522,1499.5"/>
<path class="o" d="M320,1321 C340,1420 380,1500 460,1528 C560,1545 650,1540 719.5,1547"/>
<path class="o" d="M354.5,1306 C450,1300 550,1292 575,1270 C585,1245 592,1225 620,1220 C700,1215 780,1225 800,1250 C815,1280 822,1303 839.5,1306"/>
<path class="o" d="M839.5,1312 C815,1302 805,1275 790,1250 C760,1233 680,1228 622,1228 C598,1230 588,1252 582,1276 C572,1296 500,1298 354.5,1302"/>
<path class="o" d="M452,1348 C490,1330 560,1312 600,1302 C700,1285 790,1292 839.5,1309"/>
<path class="o" d="M452,1358 C520,1372 565,1350 610.5,1340"/>
<path class="o" d="M354.5,1318 C420,1345 500,1365 560,1356 C590,1350 600,1343 610.5,1338"/>
<path class="o" d="M452,1360 C520,1400 600,1400 652,1380 C700,1370 760,1420 800,1460 C860,1490 920,1490 950.5,1490"/>
<path class="o" d="M557,1499.5 C575,1470 585,1420 590,1390 C595,1365 610,1350 624,1345.5"/>
<path class="o" d="M565.5,1512 C620,1520 690,1535 719.5,1545"/>
<path class="o" d="M664.5,1342 C680,1350 686,1380 686,1420 L688,1500 C692,1530 702,1543 719.5,1546"/>
<path class="o" d="M872,1321.5 L762,1541"/>
<path class="o" d="M756,1541 L866,1321.5"/>
<path class="o" d="M884,1321.5 C910,1360 928,1400 934,1430 C940,1460 950,1480 962,1486"/>
<path class="o" d="M972,1504 C950,1530 900,1553 781.5,1553"/>
<path class="o" d="M354.5,1320 C500,1400 800,1490 950.5,1493"/>
<path class="o" d="M565.5,1505 C700,1495 850,1505 950.5,1499"/>
<path class="o" d="M664.5,1334 C720,1360 760,1450 800,1470 C870,1490 920,1488 950.5,1489"/>
<path class="o" d="M750.5,775.5 L750.5,1541"/>
<path class="o" d="M316,1303 L318,1100 C320,950 340,862 380,842 C420,834 600,834 652,829 C700,815 725,795 738,775.5"/>
<path class="o" d="M870,2958 C860,2930 830,2910 815,2880 L810,2200 L806,2100 C800,1950 780,1800 772,1750 C765,1700 758,1620 754,1559"/>
<path class="o" d="M882,2958 C895,2930 925,2880 930,2790 L932,1620 C934,1560 950,1520 970,1504"/>
<path class="o" d="M316,1321 L318,1900 C320,2300 322,2700 330,2800 C345,2845 380,2848 430,2845 C520,2860 600,2910 652,2921 C680,2960 680,3030 700,3060 C740,3075 790,3060 808,3030 C812,3000 815,2975 846,2968"/>
<path class="o" d="M772,775.5 C820,800 900,840 928,880 C935,920 935,1000 935,1100 L936,1400 C938,1460 950,1480 958,1487"/>
</g>

<g id="edge-labels">
<text class="l" x="490" y="841">no-circular</text>
<text class="l" x="570" y="928">no-circular</text>
<text class="l" x="437" y="981">no-circular</text>
<text class="l" x="297" y="1123">no-circular</text>
<text class="l" x="787" y="1125">no-circular</text>
<text class="l" x="960" y="1139">no-circular</text>
<text class="l" x="727" y="1165">no-circular</text>
<text class="l" x="690" y="1227">no-circular</text>
<text class="l" x="716" y="1244">no-circular</text>
<text class="l" x="549" y="1278">no-circular</text>
<text class="l" x="553" y="1294">no-circular</text>
<text class="l" x="607" y="1299">no-circular</text>
<text class="l" x="397" y="1342">no-circular</text>
<text class="l" x="341" y="1350">no-circular</text>
<text class="l" x="502" y="1347">no-circular</text>
<text class="l" x="497" y="1395">no-circular</text>
<text class="l" x="557" y="1402">no-circular</text>
<text class="l" x="560" y="1431">no-circular</text>
<text class="l" x="453" y="1439">no-circular</text>
<text class="l" x="391" y="1451">no-circular</text>
<text class="l" x="476" y="1541">no-circular</text>
<text class="l" x="723" y="1390">no-circular</text>
<text class="l" x="785" y="1429">no-circular</text>
<text class="l" x="787" y="1439">no-circular</text>
<text class="l" x="905" y="1411">no-circular</text>
<text class="l" x="766" y="1502">no-circular</text>
<text class="l" x="731" y="1526">no-circular</text>
<text class="l" x="664" y="1528">no-circular</text>
<text class="l" x="856" y="1555">no-circular</text>
<text class="l" x="295" y="2156">no-circular</text>
<text class="l" x="781" y="2266">no-circular</text>
<text class="l" x="906" y="2239">no-circular</text>
</g>

<g id="nodes">
<g id="cf-client" class="no"><rect x="55" y="76" width="54" height="18" rx="6"/><text x="82" y="88">client.ts</text></g>
<g id="cf-server" class="no"><rect x="55" y="106" width="54" height="18" rx="6"/><text x="82" y="118">server.ts</text></g>
<g id="discover" class="no"><rect x="36" y="171" width="92" height="18" rx="6"/><text x="82" y="183">discover_tests.ts</text></g>
<g id="shim-event" class="no"><rect x="55" y="241" width="54" height="18" rx="6"/><text x="82" y="253">event.ts</text></g>
<g id="depcruiser" class="ng"><rect x="21" y="295" width="123" height="18" rx="6"/><text x="82.5" y="307">.dependency-cruiser.cjs</text></g>
<g id="root-mod" class="n"><rect x="55" y="366" width="54" height="18" rx="6"/><text x="82" y="378">mod.ts</text></g>
<g id="tsdown" class="no"><rect x="36" y="1935" width="92" height="18" rx="6"/><text x="82" y="1947">tsdown.config.ts</text></g>
<g id="deno-json" class="nj"><rect x="1047" y="2772" width="60" height="18" rx="6"/><text x="1077" y="2784">deno.json</text></g>

<g id="x-denokv-test" class="n"><rect x="710" y="108" width="80" height="18" rx="6"/><text x="750" y="120">denokv.test.ts</text></g>
<g id="x-cfworkers-test" class="n"><rect x="704.5" y="138" width="92" height="18" rx="6"/><text x="750.5" y="150">cfworkers.test.ts</text></g>
<g id="x-hono" class="n"><rect x="723.5" y="168" width="54" height="18" rx="6"/><text x="750.5" y="180">hono.ts</text></g>
<g id="x-sveltekit" class="n"><rect x="718" y="198" width="65" height="18" rx="6"/><text x="750.5" y="210">sveltekit.ts</text></g>
<g id="x-fresh" class="n"><rect x="723.5" y="228" width="54" height="18" rx="6"/><text x="750.5" y="240">fresh.ts</text></g>
<g id="x-denokv" class="n"><rect x="846" y="198" width="60" height="18" rx="6"/><text x="876" y="210">denokv.ts</text></g>
<g id="x-cfworkers" class="n"><rect x="840.5" y="228" width="71" height="18" rx="6"/><text x="876" y="240">cfworkers.ts</text></g>

<g id="t-person2" class="nj"><rect x="839" y="450" width="74" height="18" rx="6"/><text x="876" y="462">person2.json</text></g>
<g id="t-person" class="nj"><rect x="842.5" y="480" width="67" height="18" rx="6"/><text x="876" y="492">person.json</text></g>
<g id="t-docloader-test" class="n"><rect x="830.5" y="522" width="91" height="18" rx="6"/><text x="876" y="534">docloader.test.ts</text></g>
<g id="t-context" class="n"><rect x="845.5" y="552" width="61" height="18" rx="6"/><text x="876" y="564">context.ts</text></g>
<g id="t-mod" class="n"><rect x="956" y="552" width="53" height="18" rx="6"/><text x="982.5" y="564">mod.ts</text></g>
<g id="t-keys" class="n"><rect x="849" y="582" width="54" height="18" rx="6"/><text x="876" y="594">keys.ts</text></g>
<g id="t-docloader" class="n"><rect x="947" y="582" width="71" height="18" rx="6"/><text x="982.5" y="594">docloader.ts</text></g>

<g id="ni-semver-test" class="n"><rect x="836" y="642" width="80" height="18" rx="6"/><text x="876" y="654">semver.test.ts</text></g>
<g id="ni-types-test" class="n"><rect x="714" y="656" width="73" height="18" rx="6"/><text x="750.5" y="668">types.test.ts</text></g>
<g id="ni-client-test" class="n"><rect x="600.5" y="661" width="73" height="18" rx="6"/><text x="637" y="673">client.test.ts</text></g>
<g id="ni-semver" class="n"><rect x="952.5" y="674.5" width="60" height="18" rx="6"/><text x="982.5" y="686.5">semver.ts</text></g>
<g id="ni-types" class="n"><rect x="849" y="686" width="54" height="18" rx="6"/><text x="876" y="698">types.ts</text></g>
<g id="ni-mod" class="n"><rect x="610" y="691" width="54" height="18" rx="6"/><text x="637" y="703">mod.ts</text></g>
<g id="ni-client" class="n"><rect x="723.5" y="727.5" width="54" height="18" rx="6"/><text x="750.5" y="739.5">client.ts</text></g>
<g id="ni-handler-test" class="n"><rect x="596" y="757" width="82" height="18" rx="6"/><text x="637" y="769">handler.test.ts</text></g>
<g id="ni-handler" class="n"><rect x="719.5" y="757.5" width="62" height="18" rx="6"/><text x="750.5" y="769.5">handler.ts</text></g>

<g id="c-transformers-test" class="n"><rect x="370" y="898" width="106" height="18" rx="6"/><text x="423" y="910">transformers.test.ts</text></g>
<g id="c-mod" class="n"><rect x="396" y="927" width="54" height="18" rx="6"/><text x="423" y="939">mod.ts</text></g>
<g id="c-transformers" class="n"><rect x="492" y="927" width="85" height="18" rx="6"/><text x="534.5" y="939">transformers.ts</text></g>
<g id="c-types" class="n"><rect x="610" y="919.5" width="54" height="18" rx="6"/><text x="637" y="931.5">types.ts</text></g>

<g id="f-router-test" class="n"><rect x="386" y="1060" width="74" height="18" rx="6"/><text x="423" y="1072">router.test.ts</text></g>
<g id="f-kv-test" class="n"><rect x="847.5" y="1060" width="57" height="18" rx="6"/><text x="876" y="1072">kv.test.ts</text></g>
<g id="f-collection-test" class="n"><rect x="937.5" y="1060" width="90" height="18" rx="6"/><text x="982.5" y="1072">collection.test.ts</text></g>
<g id="f-builder-test" class="n"><rect x="171" y="1082" width="79" height="18" rx="6"/><text x="210.5" y="1094">builder.test.ts</text></g>
<g id="f-router" class="n"><rect x="507.5" y="1088" width="54" height="18" rx="6"/><text x="534.5" y="1100">router.ts</text></g>
<g id="f-mq-test" class="n"><rect x="845" y="1117" width="62" height="18" rx="6"/><text x="876" y="1129">mq.test.ts</text></g>
<g id="f-inbox-test" class="n"><rect x="498.5" y="1131.5" width="72" height="18" rx="6"/><text x="534.5" y="1143.5">inbox.test.ts</text></g>
<g id="f-handler-test" class="n"><rect x="170" y="1147" width="81" height="18" rx="6"/><text x="210.5" y="1159">handler.test.ts</text></g>
<g id="f-keycache-test" class="n"><rect x="489.5" y="1162" width="90" height="18" rx="6"/><text x="534.5" y="1174">keycache.test.ts</text></g>
<g id="f-retry-test" class="n"><rect x="842.5" y="1162" width="67" height="18" rx="6"/><text x="876" y="1174">retry.test.ts</text></g>
<g id="f-collection" class="n"><rect x="1042" y="1167.5" width="70" height="18" rx="6"/><text x="1077" y="1179.5">collection.ts</text></g>
<g id="f-kv" class="n"><rect x="956" y="1204" width="53" height="18" rx="6"/><text x="982.5" y="1216">kv.ts</text></g>
<g id="f-mq" class="n"><rect x="956" y="1276" width="53" height="18" rx="6"/><text x="982.5" y="1288">mq.ts</text></g>
<g id="f-middleware" class="n"><rect x="274.5" y="1303" width="80" height="18" rx="6"/><text x="314.5" y="1315">middleware.ts</text></g>
<g id="f-federation" class="n"><rect x="839.5" y="1303.5" width="73" height="18" rx="6"/><text x="876" y="1315.5">federation.ts</text></g>
<g id="f-retry" class="n"><rect x="956" y="1305.5" width="53" height="18" rx="6"/><text x="982.5" y="1317.5">retry.ts</text></g>
<g id="f-inbox" class="n"><rect x="610.5" y="1327.5" width="54" height="18" rx="6"/><text x="637.5" y="1339.5">inbox.ts</text></g>
<g id="f-builder" class="n"><rect x="394" y="1345.5" width="58" height="18" rx="6"/><text x="423" y="1357.5">builder.ts</text></g>
<g id="f-keycache" class="n"><rect x="602" y="1399.5" width="70" height="18" rx="6"/><text x="637" y="1411.5">keycache.ts</text></g>
<g id="f-mod" class="n"><rect x="183.5" y="1409" width="54" height="18" rx="6"/><text x="210.5" y="1421">mod.ts</text></g>
<g id="f-queue" class="n"><rect x="955" y="1436.5" width="55" height="18" rx="6"/><text x="982.5" y="1448.5">queue.ts</text></g>
<g id="f-negotiation" class="n"><rect x="598" y="1458" width="78" height="18" rx="6"/><text x="637" y="1470">negotiation.ts</text></g>
<g id="f-callback" class="n"><rect x="950.5" y="1486" width="64" height="18" rx="6"/><text x="982.5" y="1498">callback.ts</text></g>
<g id="f-handler" class="n"><rect x="503.5" y="1499.5" width="62" height="18" rx="6"/><text x="534.5" y="1511.5">handler.ts</text></g>
<g id="f-context" class="n"><rect x="719.5" y="1541" width="62" height="18" rx="6"/><text x="750.5" y="1553">context.ts</text></g>
<g id="f-send" class="n"><rect x="1050" y="1586" width="54" height="18" rx="6"/><text x="1077" y="1598">send.ts</text></g>
<g id="f-middleware-test" class="n"><rect x="160.5" y="1594.5" width="100" height="18" rx="6"/><text x="210.5" y="1606.5">middleware.test.ts</text></g>
<g id="f-send-test" class="n"><rect x="947.5" y="1597" width="70" height="18" rx="6"/><text x="982.5" y="1609">send.test.ts</text></g>

<g id="v-actor-test" class="n"><rect x="840.5" y="1920" width="71" height="18" rx="6"/><text x="876" y="1932">actor.test.ts</text></g>
<g id="v-type-test" class="n"><rect x="948" y="1928" width="68" height="18" rx="6"/><text x="982" y="1940">type.test.ts</text></g>
<g id="v-lookup-test" class="n"><rect x="837.5" y="1949.5" width="77" height="18" rx="6"/><text x="876" y="1961.5">lookup.test.ts</text></g>
<g id="v-constants" class="n"><rect x="947" y="1965.5" width="71" height="18" rx="6"/><text x="982.5" y="1977.5">constants.ts</text></g>
<g id="v-mod" class="n"><rect x="849" y="1979.5" width="54" height="18" rx="6"/><text x="876" y="1991.5">mod.ts</text></g>
<g id="v-bench" class="no"><rect x="833.5" y="2009.5" width="85" height="18" rx="6"/><text x="876" y="2021.5">vocab.bench.ts</text></g>
<g id="v-actor" class="n"><rect x="956" y="2009.5" width="53" height="18" rx="6"/><text x="982.5" y="2021.5">actor.ts</text></g>
<g id="v-type" class="n"><rect x="1050" y="2009.5" width="54" height="18" rx="6"/><text x="1077" y="2021.5">type.ts</text></g>
<g id="v-vocab-test" class="n"><rect x="839" y="2039.5" width="74" height="18" rx="6"/><text x="876" y="2051.5">vocab.test.ts</text></g>
<g id="v-lookup" class="n"><rect x="953.5" y="2039.5" width="57" height="18" rx="6"/><text x="982" y="2051.5">lookup.ts</text></g>

<g id="mb-util" class="n"><rect x="1209.5" y="2242.5" width="54" height="18" rx="6"/><text x="1236.5" y="2254.5">util.ts</text></g>
<g id="mb-test" class="n"><rect x="830" y="2271" width="92" height="18" rx="6"/><text x="876" y="2283">multibase.test.ts</text></g>
<g id="mb-constants" class="n"><rect x="1041.5" y="2271" width="71" height="18" rx="6"/><text x="1077" y="2283">constants.ts</text></g>
<g id="mb-base" class="n"><rect x="1133" y="2271" width="54" height="18" rx="6"/><text x="1160" y="2283">base.ts</text></g>
<g id="r-langstr-test" class="n"><rect x="711" y="2290.5" width="79" height="18" rx="6"/><text x="750.5" y="2302.5">langstr.test.ts</text></g>
<g id="mb-index" class="n"><rect x="956" y="2293.5" width="53" height="18" rx="6"/><text x="982.5" y="2305.5">index.ts</text></g>
<g id="mb-rfc" class="n"><rect x="1129.5" y="2301.5" width="63" height="18" rx="6"/><text x="1161" y="2313.5">rfc4648.ts</text></g>
<g id="r-authdl-test" class="n"><rect x="694.5" y="2323" width="112" height="18" rx="6"/><text x="750.5" y="2335">authdocloader.test.ts</text></g>
<g id="mb-types" class="n"><rect x="1206" y="2323" width="61" height="18" rx="6"/><text x="1236.5" y="2335">types.d.ts</text></g>
<g id="r-langstr" class="n"><rect x="846.5" y="2377.5" width="59" height="18" rx="6"/><text x="876" y="2389.5">langstr.ts</text></g>
<g id="r-docloader-test" class="n"><rect x="830" y="2407.5" width="92" height="18" rx="6"/><text x="876" y="2419.5">docloader.test.ts</text></g>
<g id="r-contexts" class="n"><rect x="1044" y="2410.5" width="66" height="18" rx="6"/><text x="1077" y="2422.5">contexts.ts</text></g>
<g id="r-mod" class="n"><rect x="723.5" y="2444" width="54" height="18" rx="6"/><text x="750.5" y="2456">mod.ts</text></g>
<g id="r-url" class="n"><rect x="1050" y="2457.5" width="54" height="18" rx="6"/><text x="1077" y="2469.5">url.ts</text></g>
<g id="r-authdl" class="n"><rect x="830" y="2465.5" width="92" height="18" rx="6"/><text x="876" y="2477.5">authdocloader.ts</text></g>
<g id="r-url-test" class="n"><rect x="952.5" y="2465.5" width="60" height="18" rx="6"/><text x="982.5" y="2477.5">url.test.ts</text></g>
<g id="r-key-test" class="n"><rect x="719.5" y="2495.5" width="62" height="18" rx="6"/><text x="750.5" y="2507.5">key.test.ts</text></g>
<g id="r-key" class="n"><rect x="849" y="2495.5" width="54" height="18" rx="6"/><text x="876" y="2507.5">key.ts</text></g>
<g id="r-docloader" class="n"><rect x="947" y="2495.5" width="71" height="18" rx="6"/><text x="982.5" y="2507.5">docloader.ts</text></g>

<g id="s-owner-test" class="n"><rect x="713.5" y="2590" width="74" height="18" rx="6"/><text x="750.5" y="2602">owner.test.ts</text></g>
<g id="s-key-test" class="n"><rect x="845" y="2596" width="62" height="18" rx="6"/><text x="876" y="2608">key.test.ts</text></g>
<g id="s-http-test" class="n"><rect x="716.5" y="2620" width="68" height="18" rx="6"/><text x="750.5" y="2632">http.test.ts</text></g>
<g id="s-owner" class="n"><rect x="849" y="2625.5" width="54" height="18" rx="6"/><text x="876" y="2637.5">owner.ts</text></g>
<g id="s-ld-test" class="n"><rect x="723" y="2649.5" width="55" height="18" rx="6"/><text x="750.5" y="2661.5">ld.test.ts</text></g>
<g id="s-proof-test" class="n"><rect x="715" y="2680" width="71" height="18" rx="6"/><text x="750.5" y="2692">proof.test.ts</text></g>
<g id="s-key" class="n"><rect x="956" y="2687" width="53" height="18" rx="6"/><text x="982.5" y="2699">key.ts</text></g>
<g id="s-http" class="n"><rect x="849" y="2697.5" width="54" height="18" rx="6"/><text x="876" y="2709.5">http.ts</text></g>
<g id="s-mod" class="n"><rect x="723.5" y="2710" width="54" height="18" rx="6"/><text x="750.5" y="2722">mod.ts</text></g>
<g id="s-proof" class="n"><rect x="849" y="2727.5" width="54" height="18" rx="6"/><text x="876" y="2739.5">proof.ts</text></g>
<g id="s-ld" class="n"><rect x="849" y="2771.5" width="54" height="18" rx="6"/><text x="876" y="2783.5">ld.ts</text></g>

<g id="w-handler-test" class="n"><rect x="709.5" y="2958" width="82" height="18" rx="6"/><text x="750.5" y="2970">handler.test.ts</text></g>
<g id="w-handler" class="n"><rect x="846" y="2958" width="61" height="18" rx="6"/><text x="876.5" y="2970">handler.ts</text></g>
<g id="w-jrd" class="n"><rect x="956" y="2958" width="53" height="18" rx="6"/><text x="982.5" y="2970">jrd.ts</text></g>
<g id="w-lookup-test" class="n"><rect x="711.5" y="2988" width="78" height="18" rx="6"/><text x="750.5" y="3000">lookup.test.ts</text></g>
<g id="w-lookup" class="n"><rect x="847.5" y="2988" width="57" height="18" rx="6"/><text x="876" y="3000">lookup.ts</text></g>
<g id="w-mod" class="n"><rect x="723.5" y="3018" width="54" height="18" rx="6"/><text x="750.5" y="3030">mod.ts</text></g>

<g id="cg-class-test" class="n"><rect x="499.5" y="3297" width="70" height="18" rx="6"/><text x="534.5" y="3309">class.test.ts</text></g>
<g id="cg-fs-test" class="n"><rect x="1049" y="3299" width="56" height="18" rx="6"/><text x="1077" y="3311">fs.test.ts</text></g>
<g id="cg-fs" class="n"><rect x="1133" y="3316" width="54" height="18" rx="6"/><text x="1160" y="3328">fs.ts</text></g>
<g id="cg-property" class="n"><rect x="718" y="3325.5" width="65" height="18" rx="6"/><text x="750.5" y="3337.5">property.ts</text></g>
<g id="cg-schema" class="n"><rect x="1046" y="3331.5" width="62" height="18" rx="6"/><text x="1077" y="3343.5">schema.ts</text></g>
<g id="cg-inspector" class="n"><rect x="716" y="3355.5" width="69" height="18" rx="6"/><text x="750.5" y="3367.5">inspector.ts</text></g>
<g id="cg-type" class="n"><rect x="956" y="3366" width="53" height="18" rx="6"/><text x="982.5" y="3378">type.ts</text></g>
<g id="cg-class" class="n"><rect x="610" y="3378" width="54" height="18" rx="6"/><text x="637" y="3390">class.ts</text></g>
<g id="cg-codec" class="n"><rect x="723.5" y="3399.5" width="54" height="18" rx="6"/><text x="750.5" y="3411.5">codec.ts</text></g>
<g id="cg-field" class="n"><rect x="849" y="3409" width="54" height="18" rx="6"/><text x="876" y="3421">field.ts</text></g>
<g id="cg-constructor" class="n"><rect x="710" y="3444" width="80" height="18" rx="6"/><text x="750" y="3456">constructor.ts</text></g>
<g id="cg-main" class="n"><rect x="507.5" y="3421" width="54" height="18" rx="6"/><text x="534.5" y="3433">main.ts</text></g>
</g>
</svg>
